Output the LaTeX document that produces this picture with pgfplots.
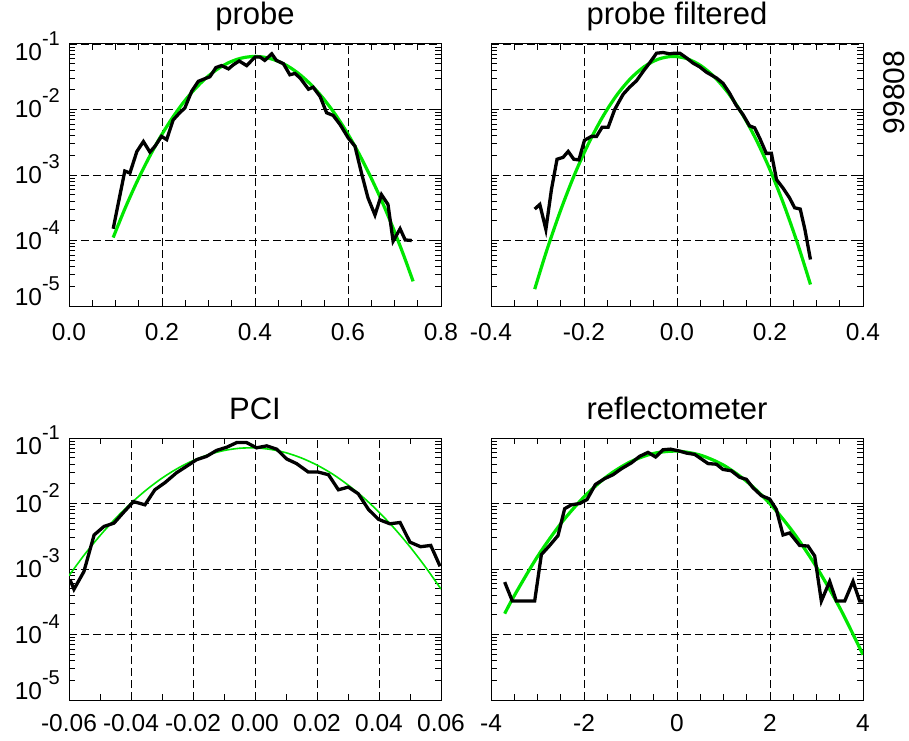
\documentclass[border=0pt]{standalone}
\usepackage{pgfplots}
\pgfplotsset{compat=1.18}
\usepackage{fontspec}
\setmainfont{Liberation Sans}
\definecolor{fitgreen}{RGB}{0,230,0}
\newcommand\ylab[1]{10\raisebox{15pt}{\fontsize{20}{20}\selectfont #1}}
\pgfplotsset{
  idl/.style={
    scale only axis, width=372pt, height=262pt, anchor=south west,
    ymin=1e-5, ymax=1e-1,
    ytick={1e-5,1e-4,1e-3,1e-2,1e-1},
    axis line style={line width=1pt},
    grid=major,
    major grid style={black, line width=0.8pt, dash pattern=on 8pt off 4pt},
    major tick length=0pt, minor tick length=6pt,
    every tick/.style={black, line width=0.8pt},
    ticklabel style={font=\fontsize{24.5}{26}\selectfont, inner sep=0pt},
    yticklabel style={anchor=base east, xshift=-9pt, yshift=-8.5pt},
    title style={at={(0.5,1)}, anchor=base, yshift=13pt, inner sep=0pt, font=\fontsize{31}{33}\selectfont},
  },
  toprow/.style={xticklabel style={anchor=base, yshift=-34.5pt}},
  botrow/.style={xticklabel style={anchor=base, yshift=-31.5pt}},
  ylabs/.style={yticklabels={\raisebox{9pt}{\ylab{-5}},\ylab{-4},\ylab{-3},\ylab{-2},\raisebox{-8pt}{\ylab{-1}}}},
  nolabs/.style={yticklabels={}},
  dat/.style={black, line width=3.3pt},
  gfit/.style={fitgreen, line width=3.2pt, smooth},
}
\begin{document}
\begin{tikzpicture}
\path[use as bounding box] (0,0) rectangle (909pt,740pt);
% ---------- probe ----------
\begin{axis}[ymode=log, idl, toprow, ylabs, at={(69pt,434pt)}, title={probe},
  xmin=0, xmax=0.8, xtick={0,0.2,0.4,0.6,0.8}, minor x tick num=3,
  xticklabels={0.0,0.2,0.4,0.6,0.8}]
\addplot[gfit] coordinates {(0.095,1.11e-4)(0.12,3.03e-4)(0.145,7.57e-4)(0.17,1.73e-3)(0.195,3.65e-3)(0.22,7.04e-3)(0.245,1.25e-2)(0.27,2.03e-2)(0.295,3.04e-2)(0.32,4.17e-2)(0.345,5.25e-2)(0.37,6.07e-2)(0.395,6.44e-2)(0.42,6.28e-2)(0.445,5.62e-2)(0.47,4.62e-2)(0.495,3.48e-2)(0.52,2.41e-2)(0.545,1.53e-2)(0.57,8.95e-3)(0.595,4.80e-3)(0.62,2.36e-3)(0.645,1.06e-3)(0.67,4.42e-4)(0.695,1.68e-4)(0.72,5.87e-5)(0.74,2.38e-5)};
\addplot[dat] coordinates {(0.095,1.51e-4)(0.120,1.15e-3)(0.131,1.07e-3)(0.146,2.29e-3)(0.160,3.24e-3)(0.174,2.24e-3)(0.185,2.75e-3)(0.199,3.89e-3)(0.210,3.47e-3)(0.224,6.92e-3)(0.238,8.91e-3)(0.249,1.05e-2)(0.264,1.91e-2)(0.278,2.69e-2)(0.292,2.95e-2)(0.303,3.16e-2)(0.316,4.37e-2)(0.328,4.68e-2)(0.343,4.17e-2)(0.353,4.79e-2)(0.366,5.50e-2)(0.382,4.68e-2)(0.400,6.31e-2)(0.411,6.31e-2)(0.421,5.62e-2)(0.436,7.08e-2)(0.446,5.62e-2)(0.461,5.01e-2)(0.475,3.39e-2)(0.486,3.55e-2)(0.497,3.02e-2)(0.515,2.04e-2)(0.525,2.19e-2)(0.540,1.58e-2)(0.554,8.91e-3)(0.568,8.13e-3)(0.583,5.89e-3)(0.601,3.63e-3)(0.615,2.75e-3)(0.629,1.07e-3)(0.643,4.47e-4)(0.658,2.45e-4)(0.672,5.01e-4)(0.686,3.55e-4)(0.697,9.77e-5)(0.712,1.51e-4)(0.723,1.02e-4)(0.737,1.00e-4)};
\end{axis}
% ---------- probe filtered ----------
\begin{axis}[ymode=log, idl, toprow, nolabs, at={(491pt,434pt)}, title={probe filtered},
  xmin=-0.4, xmax=0.4, xtick={-0.4,-0.2,0,0.2,0.4}, minor x tick num=3,
  xticklabels={-0.4,-0.2,0.0,0.2,0.4}]
\addplot[gfit] coordinates {(-0.306,1.81e-5)(-0.28,7.10e-5)(-0.25,2.93e-4)(-0.22,1.03e-3)(-0.19,3.05e-3)(-0.16,7.69e-3)(-0.13,1.64e-2)(-0.10,2.96e-2)(-0.07,4.53e-2)(-0.04,5.87e-2)(-0.01,6.46e-2)(0.02,6.01e-2)(0.05,4.73e-2)(0.08,3.16e-2)(0.11,1.79e-2)(0.14,8.59e-3)(0.17,3.49e-3)(0.20,1.20e-3)(0.23,3.50e-4)(0.26,8.65e-5)(0.287,2.13e-5)};
\addplot[dat] coordinates {(-0.306,3.02e-4)(-0.295,3.55e-4)(-0.282,1.48e-4)(-0.270,6.03e-4)(-0.258,1.74e-3)(-0.245,1.86e-3)(-0.234,2.29e-3)(-0.222,1.74e-3)(-0.211,1.70e-3)(-0.199,3.39e-3)(-0.184,3.89e-3)(-0.173,3.89e-3)(-0.161,5.37e-3)(-0.148,5.37e-3)(-0.134,1.00e-2)(-0.116,1.70e-2)(-0.102,2.19e-2)(-0.087,2.75e-2)(-0.073,3.80e-2)(-0.059,5.13e-2)(-0.044,7.24e-2)(-0.030,7.41e-2)(-0.016,7.08e-2)(-0.005,7.24e-2)(0.006,7.24e-2)(0.020,6.17e-2)(0.034,5.13e-2)(0.049,4.47e-2)(0.063,3.72e-2)(0.085,3.02e-2)(0.099,2.51e-2)(0.113,1.78e-2)(0.127,1.17e-2)(0.142,8.32e-3)(0.156,5.62e-3)(0.167,5.25e-3)(0.178,3.63e-3)(0.192,2.14e-3)(0.203,2.14e-3)(0.214,8.51e-4)(0.228,6.31e-4)(0.242,4.47e-4)(0.253,3.16e-4)(0.265,3.02e-4)(0.275,1.48e-4)(0.287,5.13e-5)};
\end{axis}
% ---------- PCI ----------
\begin{axis}[ymode=log, idl, botrow, ylabs, at={(69pt,40pt)}, title={PCI},
  xmin=-0.06, xmax=0.06, xtick={-0.06,-0.04,-0.02,0,0.02,0.04,0.06}, minor x tick num=1,
  xticklabels={-0.06,-0.04,-0.02,0.00,0.02,0.04,0.06}]
\addplot[gfit, line width=1.6pt] coordinates {(-0.06,7.93e-4)(-0.055,1.66e-3)(-0.05,3.23e-3)(-0.045,5.91e-3)(-0.04,1.01e-2)(-0.035,1.62e-2)(-0.03,2.44e-2)(-0.025,3.43e-2)(-0.02,4.52e-2)(-0.015,5.57e-2)(-0.01,6.44e-2)(-0.005,6.97e-2)(0,7.06e-2)(0.005,6.70e-2)(0.01,5.96e-2)(0.015,4.95e-2)(0.02,3.86e-2)(0.025,2.82e-2)(0.03,1.92e-2)(0.035,1.23e-2)(0.04,7.38e-3)(0.045,4.15e-3)(0.05,2.18e-3)(0.055,1.07e-3)(0.06,4.94e-4)};
\addplot[dat] coordinates {(-0.0597,6.92e-4)(-0.0584,4.90e-4)(-0.0552,9.12e-4)(-0.0519,3.31e-3)(-0.0487,4.47e-3)(-0.0455,5.01e-3)(-0.0423,7.41e-3)(-0.0392,1.07e-2)(-0.0355,9.55e-3)(-0.0323,1.62e-2)(-0.0290,2.09e-2)(-0.0253,2.95e-2)(-0.0220,3.72e-2)(-0.0188,4.68e-2)(-0.0156,5.25e-2)(-0.0124,6.46e-2)(-0.0091,7.24e-2)(-0.0059,8.51e-2)(-0.0027,8.51e-2)(0.0005,7.08e-2)(0.0038,7.59e-2)(0.0070,6.76e-2)(0.0102,4.79e-2)(0.0134,4.07e-2)(0.0172,3.02e-2)(0.0204,3.02e-2)(0.0237,2.75e-2)(0.0269,1.62e-2)(0.0301,1.78e-2)(0.0333,1.41e-2)(0.0366,8.13e-3)(0.0398,5.75e-3)(0.0435,4.90e-3)(0.0468,5.13e-3)(0.0500,2.57e-3)(0.0534,2.19e-3)(0.0567,2.29e-3)(0.0597,1.10e-3)};
\end{axis}
% ---------- reflectometer ----------
\begin{axis}[ymode=log, idl, botrow, nolabs, at={(491pt,40pt)}, title={reflectometer},
  xmin=-4, xmax=4, xtick={-4,-2,0,2,4}, minor x tick num=3,
  xticklabels={-4,-2,0,2,4}]
\addplot[gfit] coordinates {(-3.706,2.08e-4)(-3.5,3.91e-4)(-3.0,1.55e-3)(-2.5,4.92e-3)(-2.0,1.26e-2)(-1.5,2.61e-2)(-1.0,4.34e-2)(-0.5,5.82e-2)(0,6.30e-2)(0.5,5.48e-2)(1.0,3.85e-2)(1.5,2.17e-2)(2.0,9.91e-3)(2.5,3.63e-3)(3.0,1.07e-3)(3.5,2.56e-4)(4.0,4.91e-5)};
\addplot[dat] coordinates {(-3.706,6.31e-4)(-3.541,3.24e-4)(-3.061,3.24e-4)(-2.917,1.66e-3)(-2.738,2.29e-3)(-2.559,3.24e-3)(-2.416,8.32e-3)(-2.272,9.55e-3)(-2.093,1.00e-2)(-1.935,1.15e-2)(-1.756,1.95e-2)(-1.556,2.40e-2)(-1.376,2.75e-2)(-1.197,3.39e-2)(-0.982,4.17e-2)(-0.803,5.25e-2)(-0.624,6.03e-2)(-0.459,5.13e-2)(-0.301,6.61e-2)(-0.143,6.76e-2)(0.057,6.31e-2)(0.201,5.89e-2)(0.380,5.62e-2)(0.523,4.79e-2)(0.667,4.07e-2)(0.846,3.98e-2)(0.989,3.31e-2)(1.168,3.16e-2)(1.348,2.51e-2)(1.491,2.34e-2)(1.634,1.74e-2)(1.814,1.32e-2)(1.993,1.17e-2)(2.136,8.13e-3)(2.280,3.31e-3)(2.423,3.55e-3)(2.638,2.29e-3)(2.817,2.24e-3)(2.961,1.58e-3)(3.104,3.24e-4)(3.283,6.46e-4)(3.427,3.24e-4)(3.606,3.24e-4)(3.785,6.46e-4)(3.928,3.24e-4)(4.0,3.24e-4)};
\end{axis}
\node[rotate=90, font=\fontsize{30}{32}\selectfont, inner sep=0pt] at (894pt,647.5pt) {99808};
\end{tikzpicture}
\end{document}
